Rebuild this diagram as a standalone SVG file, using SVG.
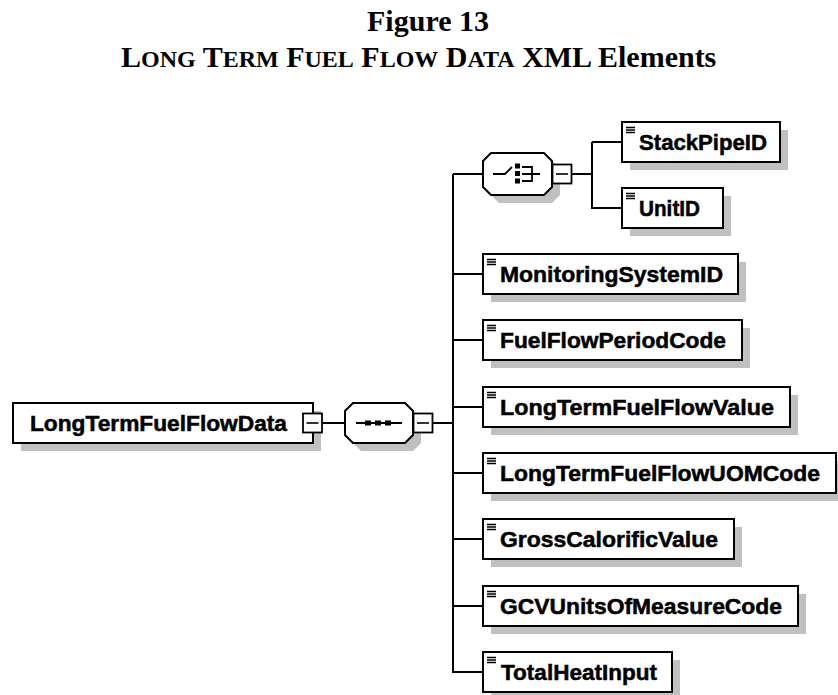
<svg xmlns="http://www.w3.org/2000/svg" xmlns:xlink="http://www.w3.org/1999/xlink" width="838" height="695" viewBox="0 0 838 695">
<style>
.bg{fill:#fff}
.box{fill:#fff;stroke:#000;stroke-width:2}
.shadow{fill:#c0c0c0}
.conn{stroke:#000;stroke-width:2;fill:none}
.lbl{font-family:"Liberation Sans",Arial,sans-serif;font-weight:bold;font-size:22px;fill:#000;stroke:#000;stroke-width:0.5}
.title{font-family:"Liberation Serif","Times New Roman",serif;font-weight:bold;font-size:30px;fill:#000}
.ic{stroke:#000;stroke-width:1.8;fill:none}
</style>
<defs>
<g id="elIcon"><path d="M0 0.5H9M0 3H9M0 5.5H9" stroke="#000" stroke-width="1.4"/></g>
<g id="minus"><rect x="0" y="0" width="19" height="19" fill="#fff" stroke="#000" stroke-width="1.8"/><path d="M3.5 9.5H15.5" stroke="#000" stroke-width="1.6"/></g>
</defs>
<rect class="bg" x="0" y="0" width="838" height="695"/>
<g id="title">
<text class="title" x="428" y="31" text-anchor="middle" font-size="31">Figure 13</text>
<text class="title" x="121" y="67">L<tspan font-size="24">ONG</tspan> T<tspan font-size="24">ERM</tspan> F<tspan font-size="24">UEL</tspan> F<tspan font-size="24">LOW</tspan> D<tspan font-size="24">ATA</tspan> XML Elements</text>
</g>
<g id="connectors">
<path class="conn" d="M322 423H345"/>
<path class="conn" d="M433 423H453"/>
<path class="conn" d="M453 174V673"/>
<path class="conn" d="M453 174H483"/>
<path class="conn" d="M572 174H592"/>
<path class="conn" d="M592 142V209"/>
<path class="conn" d="M592 142H622"/>
<path class="conn" d="M592 208H622"/>
<path class="conn" d="M453 274H483"/>
<path class="conn" d="M453 340H483"/>
<path class="conn" d="M453 407H483"/>
<path class="conn" d="M453 473H483"/>
<path class="conn" d="M453 539H483"/>
<path class="conn" d="M453 606H483"/>
<path class="conn" d="M453 672H483"/>
</g>
<g id="LongTermFuelFlowData">
<rect class="shadow" x="21" y="411" width="300" height="40"/>
<rect class="box" x="13" y="403" width="300" height="40"/>
<text class="lbl" x="30" y="431" textLength="257" lengthAdjust="spacingAndGlyphs">LongTermFuelFlowData</text>
<use xlink:href="#minus" x="303" y="413.5"/>
</g>
<g id="sequence">
<polygon class="shadow" points="361,411 413,411 421,419 421,443 413,451 361,451 353,443 353,419"/>
<polygon class="box" points="353,403 405,403 413,411 413,435 405,443 353,443 345,435 345,411"/>
<path class="ic" d="M356 423H402"/>
<rect x="365" y="420.5" width="6" height="5" fill="#000"/>
<rect x="375" y="420.5" width="6" height="5" fill="#000"/>
<rect x="385" y="420.5" width="6" height="5" fill="#000"/>
<use xlink:href="#minus" x="413.5" y="413.5"/>
</g>
<g id="choice">
<polygon class="shadow" points="499,161 552,161 560,169 560,195 552,203 499,203 491,195 491,169"/>
<polygon class="box" points="491,153 544,153 552,161 552,187 544,195 491,195 483,187 483,161"/>
<path class="ic" d="M493 174H505L512 167"/>
<rect x="515" y="163.5" width="5" height="5" fill="#000"/>
<rect x="515" y="171" width="5" height="5" fill="#000"/>
<rect x="515" y="178.5" width="5" height="5" fill="#000"/>
<path class="ic" d="M522 167H532V181H522M522 174H540"/>
<use xlink:href="#minus" x="552.5" y="164.5"/>
</g>
<g id="StackPipeID">
<rect class="shadow" x="630" y="130" width="158" height="40"/>
<rect class="box" x="622" y="122" width="158" height="40"/>
<use xlink:href="#elIcon" x="626" y="127"/>
<text class="lbl" x="639" y="150" textLength="128" lengthAdjust="spacingAndGlyphs">StackPipeID</text>
</g>
<g id="UnitID">
<rect class="shadow" x="630" y="196" width="101" height="40"/>
<rect class="box" x="622" y="188" width="101" height="40"/>
<use xlink:href="#elIcon" x="626" y="193"/>
<text class="lbl" x="639" y="216" textLength="61" lengthAdjust="spacingAndGlyphs">UnitID</text>
</g>
<g id="MonitoringSystemID">
<rect class="shadow" x="491" y="262" width="255" height="40"/>
<rect class="box" x="483" y="254" width="255" height="40"/>
<use xlink:href="#elIcon" x="487" y="259"/>
<text class="lbl" x="500" y="282" textLength="223" lengthAdjust="spacingAndGlyphs">MonitoringSystemID</text>
</g>
<g id="FuelFlowPeriodCode">
<rect class="shadow" x="491" y="328" width="259" height="40"/>
<rect class="box" x="483" y="320" width="259" height="40"/>
<use xlink:href="#elIcon" x="487" y="325"/>
<text class="lbl" x="500" y="348" textLength="226" lengthAdjust="spacingAndGlyphs">FuelFlowPeriodCode</text>
</g>
<g id="LongTermFuelFlowValue">
<rect class="shadow" x="491" y="395" width="307" height="40"/>
<rect class="box" x="483" y="387" width="307" height="40"/>
<use xlink:href="#elIcon" x="487" y="392"/>
<text class="lbl" x="500" y="415" textLength="274" lengthAdjust="spacingAndGlyphs">LongTermFuelFlowValue</text>
</g>
<g id="LongTermFuelFlowUOMCode">
<rect class="shadow" x="491" y="461" width="353" height="40"/>
<rect class="box" x="483" y="453" width="353" height="40"/>
<use xlink:href="#elIcon" x="487" y="458"/>
<text class="lbl" x="500" y="481" textLength="320" lengthAdjust="spacingAndGlyphs">LongTermFuelFlowUOMCode</text>
</g>
<g id="GrossCalorificValue">
<rect class="shadow" x="491" y="527" width="251" height="40"/>
<rect class="box" x="483" y="519" width="251" height="40"/>
<use xlink:href="#elIcon" x="487" y="524"/>
<text class="lbl" x="500" y="547" textLength="218" lengthAdjust="spacingAndGlyphs">GrossCalorificValue</text>
</g>
<g id="GCVUnitsOfMeasureCode">
<rect class="shadow" x="491" y="594" width="315" height="40"/>
<rect class="box" x="483" y="586" width="315" height="40"/>
<use xlink:href="#elIcon" x="487" y="591"/>
<text class="lbl" x="500" y="614" textLength="282" lengthAdjust="spacingAndGlyphs">GCVUnitsOfMeasureCode</text>
</g>
<g id="TotalHeatInput">
<rect class="shadow" x="491" y="660" width="189" height="40"/>
<rect class="box" x="483" y="652" width="189" height="40"/>
<use xlink:href="#elIcon" x="487" y="657"/>
<text class="lbl" x="501" y="680" textLength="156" lengthAdjust="spacingAndGlyphs">TotalHeatInput</text>
</g>
</svg>
